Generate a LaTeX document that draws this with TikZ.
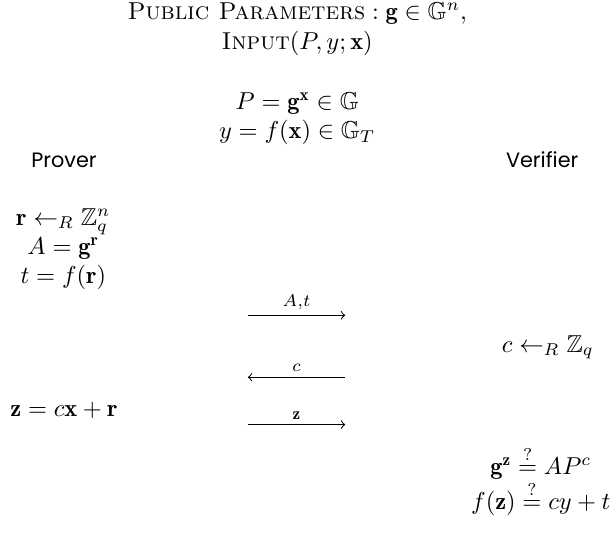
\documentclass[tikz,border=0pt]{standalone}
\usepackage{amsmath,amssymb}
\usepackage{fontspec}
\newfontfamily\partyfont{Poppins}
\tikzset{
  party/.style={font=\fontsize{8.5}{10}\partyfont},
  msg/.style={->,>=to,thin},
  lbl/.style={above,inner sep=2pt}
}
\begin{document}
\begin{tikzpicture}
\useasboundingbox (0,0) rectangle (8.85,-7.67);
\node (pub) at (4.27,-0.19) {$\textsc{Public Parameters}:\mathbf{g}\in\mathbb{G}^n,$};
\node (inp) at (4.27,-0.62) {$\textsc{Input}(P,y;\mathbf{x})$};
\node[align=center] (stmt) at (4.27,-1.70) {$P=\mathbf{g}^{\mathbf{x}}\in\mathbb{G}$\\ $y=f(\mathbf{x})\in\mathbb{G}_T$};
\node[party] (prv) at (0.92,-2.30) {Prover};
\node[party] (vrf) at (7.79,-2.30) {Verifier};
\node[align=center] (commit) at (0.91,-3.58) {$\mathbf{r}\leftarrow_R\mathbb{Z}_q^n$\\ $A=\mathbf{g}^{\mathbf{r}}$\\ $t=f(\mathbf{r})$};
\node (chal) at (7.87,-4.99) {$c\leftarrow_R\mathbb{Z}_q$};
\node (resp) at (0.92,-5.89) {$\mathbf{z}=c\mathbf{x}+\mathbf{r}$};
\node[align=center] (check) at (7.77,-6.91) {$\mathbf{g}^{\mathbf{z}}\overset{?}{=}AP^c$\\ $f(\mathbf{z})\overset{?}{=}cy+t$};
% messages
\coordinate (m1a) at (3.56,-4.53);
\coordinate (m1b) at (4.96,-4.53);
\coordinate (m2a) at (3.56,-5.42);
\coordinate (m2b) at (4.96,-5.42);
\coordinate (m3a) at (3.56,-6.10);
\coordinate (m3b) at (4.96,-6.10);
\draw[msg] (m1a) -- node[lbl] {$\scriptstyle A,t$} (m1b);
\draw[msg] (m2b) -- node[lbl] {$\scriptstyle c$} (m2a);
\draw[msg] (m3a) -- node[lbl] {$\scriptstyle\mathbf{z}$} (m3b);
\end{tikzpicture}
\end{document}
